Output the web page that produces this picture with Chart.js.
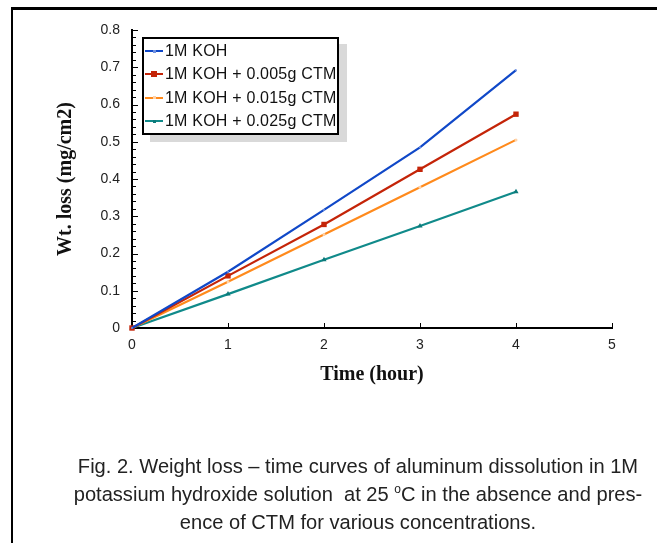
<!DOCTYPE html>
<html>
<head>
<meta charset="utf-8">
<script src="https://cdn.jsdelivr.net/npm/chart.js@4"></script>
<style>
    html, body { margin: 0; padding: 0; background: #fff; }
    body { width: 657px; height: 543px; position: relative; overflow: hidden; }
    #frame { position: absolute; left: 11px; top: 7px; width: 700px; height: 600px; border-top: 3px solid #000; border-left: 2px solid #000; }
    #wrap { position: absolute; left: 0; top: 0; width: 657px; height: 543px; }
    #legend { position: absolute; left: 142px; top: 37px; width: 193px; height: 94px; border: 2px solid #000; background: #fff;
              box-shadow: 8px 7px 0 #d9d9d9; font: 16px "Liberation Sans", Arial, sans-serif; color: #111; }
    .row { position: absolute; left: 1px; height: 20px; line-height: 20px; white-space: nowrap; letter-spacing: 0.2px; }
    .sw { display: inline-block; position: relative; width: 18px; height: 20px; vertical-align: top; margin-right: 2px; }
    .sw i { position: absolute; left: 0; top: 9px; width: 18px; height: 2px; }
    .sw b { position: absolute; }
    #caption { position: absolute; left: 60px; width: 596px; top: 452px; text-align: center;
               font: 20.1px "Liberation Sans", Arial, sans-serif; line-height: 28px; color: #222; }
    #caption sup { font-size: 12px; vertical-align: 8px; line-height: 0; }
</style>
</head>
<body>
<div id="frame"></div>
<div id="wrap"><canvas id="lossChart" width="657" height="543"></canvas></div>
<div id="legend"></div>
<div id="caption">
    Fig. 2. Weight loss – time curves of aluminum dissolution in 1M<br>
    potassium hydroxide solution&nbsp; at 25 <sup>o</sup>C in the absence and pres-<br>
    ence of CTM for various concentrations.
</div>
<script>
const hours = [0, 1, 2, 3, 4];
const koh = [0, 0.151, 0.317, 0.485, 0.692];
const ctm005 = [0, 0.140, 0.278, 0.426, 0.574];
const ctm015 = [0, 0.124, 0.251, 0.378, 0.505];
const ctm025 = [0, 0.091, 0.183, 0.274, 0.366];

const seriesLabels = ['1M KOH', '1M KOH + 0.005g CTM', '1M KOH + 0.015g CTM', '1M KOH + 0.025g CTM'];
const xTickValues = [0, 1, 2, 3, 4, 5];
const yTickValues = [0, 0.1, 0.2, 0.3, 0.4, 0.5, 0.6, 0.7, 0.8];

const colors = ['#1048c8', '#c42408', '#ff8a1c', '#108a8a'];

function toPoints(values) {
    return hours.map((h, i) => ({ x: h, y: values[i] }));
}

// small inward tick marks like the original plot
const innerTicks = {
    id: 'innerTicks',
    beforeDatasetsDraw(chart) {
        const { ctx, chartArea, scales: { x, y } } = chart;
        ctx.save();
        ctx.strokeStyle = '#000';
        ctx.lineWidth = 1;
        ctx.beginPath();
        for (let i = 0; i < yTickValues.length; i++) {
            const v = yTickValues[i];
            const py = Math.round(y.getPixelForValue(v)) + 0.5;
            ctx.moveTo(chartArea.left, py);
            ctx.lineTo(chartArea.left + 6, py);
            if (i < yTickValues.length - 1) {
                const next = yTickValues[i + 1];
                for (let k = 1; k < 5; k++) {
                    const my = Math.round(y.getPixelForValue(v + (next - v) * k / 5)) + 0.5;
                    ctx.moveTo(chartArea.left, my);
                    ctx.lineTo(chartArea.left + 4, my);
                }
            }
        }
        xTickValues.forEach(v => {
            const px = Math.round(x.getPixelForValue(v)) + 0.5;
            ctx.moveTo(px, chartArea.bottom);
            ctx.lineTo(px, chartArea.bottom - 5);
        });
        ctx.stroke();
        ctx.restore();
    }
};

const ctx = document.getElementById('lossChart').getContext('2d');

const lossChart = new Chart(ctx, {
    type: 'line',
    data: {
        datasets: [
            { label: seriesLabels[0], data: toPoints(koh), borderColor: colors[0], backgroundColor: '#6f90e0',
              pointStyle: 'circle', pointRadius: 1, pointBorderWidth: 0, borderWidth: 2.2 },
            { label: seriesLabels[1], data: toPoints(ctm005), borderColor: colors[1], backgroundColor: colors[1],
              pointStyle: 'rect', pointRadius: 3.8, pointBorderWidth: 0, borderWidth: 2.2 },
            { label: seriesLabels[2], data: toPoints(ctm015), borderColor: colors[2], backgroundColor: '#ffd2a8',
              pointStyle: 'circle', pointRadius: 1.5, pointBorderWidth: 0, borderWidth: 2.2 },
            { label: seriesLabels[3], data: toPoints(ctm025), borderColor: colors[3], backgroundColor: '#0c7a7a',
              pointStyle: 'triangle', pointRadius: 3, pointBorderWidth: 0, borderWidth: 2.2 }
        ]
    },
    options: {
        responsive: false,
        animation: false,
        layout: { padding: { top: 30, right: 45, bottom: 155, left: 0 } },
        elements: { line: { tension: 0, fill: false }, point: { hoverRadius: 0 } },
        datasets: { line: { clip: false } },
        plugins: { legend: { display: false }, tooltip: { enabled: false } },
        scales: {
            x: {
                type: 'linear', min: 0, max: 5,
                afterBuildTicks: s => { s.ticks = xTickValues.map(v => ({ value: v })); },
                afterFit: s => { s.height = 60; },
                grid: { display: true, drawOnChartArea: false, drawTicks: false },
                border: { color: '#000', width: 2 },
                ticks: { padding: 9, color: '#222', font: { family: 'Liberation Sans', size: 14 } },
                title: { display: true, text: 'Time (hour)', color: '#111', padding: { top: 0, bottom: 1 },
                         font: { family: 'Liberation Serif', size: 20, weight: 'bold' } }
            },
            y: {
                min: 0, max: 0.8,
                afterBuildTicks: s => { s.ticks = yTickValues.map(v => ({ value: v })); },
                afterFit: s => { s.width = 132; },
                grid: { display: true, drawOnChartArea: false, drawTicks: false },
                border: { color: '#000', width: 2 },
                ticks: { padding: 12, color: '#222', font: { family: 'Liberation Sans', size: 14 } },
                title: { display: true, text: 'Wt. loss (mg/cm2)', color: '#111', padding: { top: 54, bottom: 0 },
                         font: { family: 'Liberation Serif', size: 20, weight: 'bold' } }
            }
        }
    },
    plugins: [innerTicks]
});

// legend box built from the dataset labels and colours
const legend = document.getElementById('legend');
lossChart.data.datasets.forEach((ds, i) => {
    const row = document.createElement('div');
    row.className = 'row';
    row.style.top = (2 + i * 23.4) + 'px';
    const sw = document.createElement('span');
    sw.className = 'sw';
    const line = document.createElement('i');
    line.style.background = ds.borderColor;
    sw.appendChild(line);
    const mark = document.createElement('b');
    const size = ds.pointStyle === 'rect' ? 6 : 3;
    mark.style.width = size + 'px';
    mark.style.height = size + 'px';
    mark.style.left = (9 - size / 2) + 'px';
    mark.style.top = (10 - size / 2) + 'px';
    mark.style.background = ds.backgroundColor;
    sw.appendChild(mark);
    row.appendChild(sw);
    row.appendChild(document.createTextNode(ds.label));
    legend.appendChild(row);
});
</script>
</body>
</html>
